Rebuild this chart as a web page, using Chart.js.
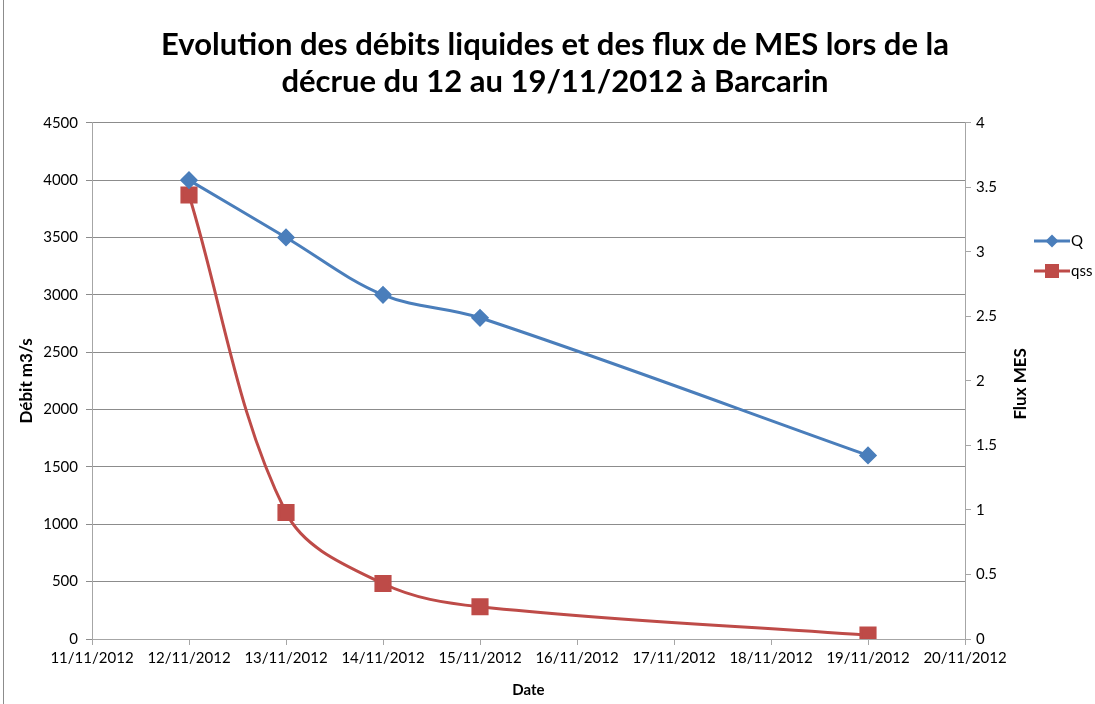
<!DOCTYPE html>
<html>
<head>
<meta charset="utf-8">
<script src="https://cdn.jsdelivr.net/npm/chart.js@4"></script>
<style>
  html, body { margin: 0; padding: 0; background: #fff; overflow: hidden; }
  #wrap { position: relative; width: 1110px; height: 704px; }
  #wrap::before { content: ''; position: absolute; left: 3px; top: 0; bottom: 0; border-left: 1px solid #8c8c8c; }
  canvas { display: block; }
</style>
</head>
<body>
<div id="wrap"><canvas id="chart" width="1110" height="704"></canvas></div>
<script>
// Données
const days = [12, 13, 14, 15, 19];               // jour de novembre 2012
const debitQ = [4000, 3500, 3000, 2800, 1600];    // Débit m3/s
const fluxQss = [3.44, 0.98, 0.43, 0.25, 0.03];   // Flux MES
const dateLabels = ['11/11/2012', '12/11/2012', '13/11/2012', '14/11/2012', '15/11/2012',
                    '16/11/2012', '17/11/2012', '18/11/2012', '19/11/2012', '20/11/2012'];
const firstDay = 11;

const BLUE = '#4a7ebb';
const RED = '#be4b48';
const FONT = 'Lato, "Open Sans", sans-serif';

// icone de légende : trait + marqueur
function legendIcon(color, style) {
    const c = document.createElement('canvas');
    c.width = 36; c.height = 16;
    const g = c.getContext('2d');
    g.strokeStyle = color; g.lineWidth = 3;
    g.beginPath(); g.moveTo(0, 8); g.lineTo(36, 8); g.stroke();
    g.fillStyle = color;
    if (style === 'rectRot') {
        g.beginPath(); g.moveTo(18, 1.5); g.lineTo(24.5, 8); g.lineTo(18, 14.5); g.lineTo(11.5, 8); g.closePath(); g.fill();
    } else {
        g.fillRect(11, 1, 14, 14);
    }
    return c;
}

const sideTexts = {
    id: 'sideTexts',
    afterDraw(chart) {
        const ctx = chart.ctx;
        const y1 = chart.scales.y1;
        ctx.save();
        // titre de l'axe de droite (lu de bas en haut comme dans Excel)
        ctx.fillStyle = '#000';
        ctx.font = 'bold 17px ' + FONT;
        ctx.textAlign = 'center';
        ctx.textBaseline = 'middle';
        ctx.translate(y1.left + 56, (y1.top + y1.bottom) / 2 + 3);
        ctx.rotate(-Math.PI / 2);
        ctx.fillText('Flux MES', 0, 0);
        ctx.restore();

        // légende
        ctx.save();
        ctx.font = '15px ' + FONT;
        ctx.textBaseline = 'middle';
        ctx.fillStyle = '#000';
        chart.data.datasets.forEach((ds, i) => {
            const yy = 241 + i * 30;
            ctx.drawImage(legendIcon(ds.borderColor, ds.pointStyle), y1.left + 69, yy - 8);
            ctx.fillText(ds.label, y1.left + 106, yy);
        });
        ctx.restore();
    }
};

new Chart(document.getElementById('chart'), {
    type: 'line',
    data: {
        datasets: [{
            label: 'Q',
            data: days.map((d, i) => ({ x: d, y: debitQ[i] })),
            yAxisID: 'y',
            borderColor: BLUE,
            backgroundColor: BLUE,
            borderWidth: 3,
            pointStyle: 'rectRot',
            pointRadius: 7,
            pointHoverRadius: 7,
            tension: 0.35
        }, {
            label: 'qss',
            data: days.map((d, i) => ({ x: d, y: fluxQss[i] })),
            yAxisID: 'y1',
            borderColor: RED,
            backgroundColor: RED,
            borderWidth: 3,
            pointStyle: 'rect',
            pointRadius: 10,
            pointHoverRadius: 10,
            tension: 0.35
        }]
    },
    options: {
        responsive: false,
        animation: false,
        layout: { padding: 0 },
        plugins: {
            legend: { display: false },
            tooltip: { enabled: false },
            title: {
                display: true,
                text: ['Evolution des débits liquides et des flux de MES lors de la',
                       'décrue du 12 au 19/11/2012 à Barcarin'],
                color: '#000',
                font: { family: FONT, size: 31, weight: 'bold', lineHeight: 1.19 },
                padding: { top: 27, bottom: 22 }
            }
        },
        scales: {
            x: {
                type: 'linear',
                min: 11,
                max: 20,
                afterFit(scale) { scale.height = 65; },
                grid: { drawOnChartArea: false, color: '#a6a6a6', tickLength: 6 },
                border: { color: '#a6a6a6' },
                ticks: {
                    stepSize: 1,
                    autoSkip: false,
                    maxRotation: 0,
                    padding: 4,
                    color: '#000',
                    font: { family: FONT, size: 15 },
                    callback: (v) => dateLabels[v - firstDay]
                },
                title: {
                    display: true,
                    text: 'Date',
                    color: '#000',
                    font: { family: FONT, size: 15, weight: 'bold' },
                    padding: { top: 0, bottom: 5 }
                }
            },
            y: {
                position: 'left',
                min: 0,
                max: 4500,
                afterFit(scale) { scale.width = 92; },
                grid: { color: '#8c8c8c', tickLength: 6 },
                border: { color: '#a6a6a6' },
                ticks: {
                    stepSize: 500,
                    padding: 8,
                    color: '#000',
                    font: { family: FONT, size: 15 },
                    callback: (v) => String(v)
                },
                title: {
                    display: true,
                    text: 'Débit m3/s',
                    color: '#000',
                    font: { family: FONT, size: 17, weight: 'bold' },
                    padding: { top: 16, bottom: 0 }
                }
            },
            y1: {
                position: 'right',
                min: 0,
                max: 4,
                afterFit(scale) { scale.width = 145; },
                grid: { drawOnChartArea: false, color: '#a6a6a6', tickLength: 6 },
                border: { color: '#a6a6a6' },
                ticks: {
                    stepSize: 0.5,
                    padding: 5,
                    color: '#000',
                    font: { family: FONT, size: 15 },
                    callback: (v) => String(v)
                }
            }
        }
    },
    plugins: [sideTexts]
});
</script>
</body>
</html>
